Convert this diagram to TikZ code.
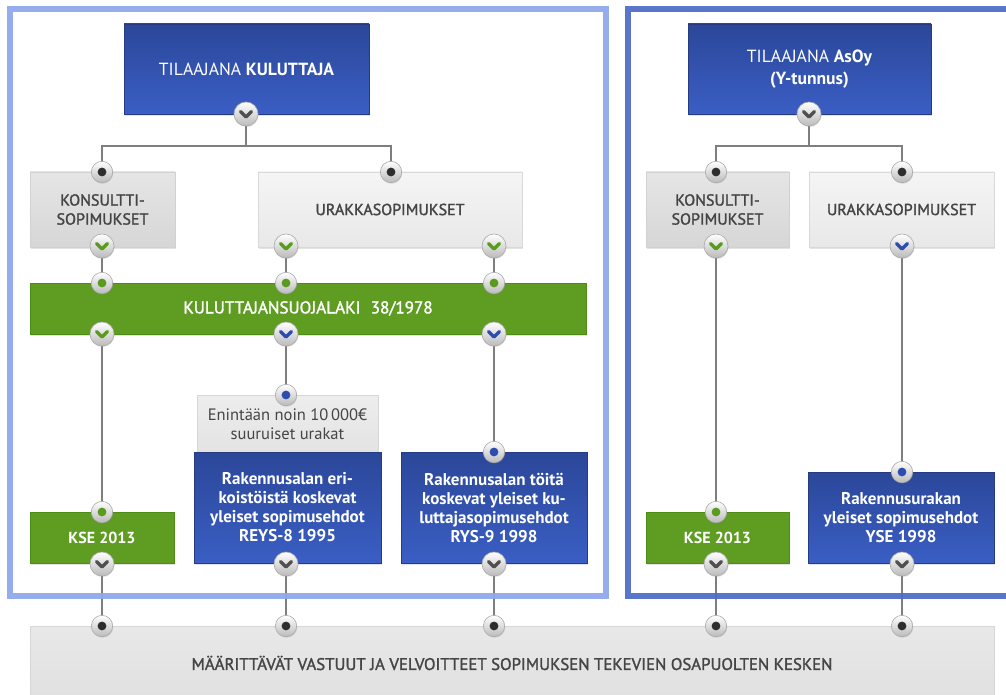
\documentclass[tikz,border=0pt]{standalone}
\usepackage{fontspec}
\setmainfont{PT Sans}
\newfontfamily\medfont{PT Sans}[FakeBold=1.6]
\usetikzlibrary{shadows}
\definecolor{blueA}{HTML}{2B4799}
\definecolor{blueB}{HTML}{3A5EC4}
\definecolor{grn}{HTML}{5F9C22}
\definecolor{grnD}{HTML}{4E8C18}
\definecolor{chevG}{HTML}{5A9A1E}
\definecolor{chevB}{HTML}{2D4CB0}
\definecolor{chevD}{HTML}{505050}
\definecolor{dotD}{HTML}{2E2E2E}
\definecolor{lineC}{HTML}{7E7E7E}
\definecolor{frameL}{HTML}{8EA7EC}
\definecolor{frameR}{HTML}{4D6BC6}
\definecolor{txtD}{HTML}{454545}
\pgfdeclarelayer{bg}
\pgfdeclarelayer{lines}
\pgfdeclarelayer{frames}
\pgfsetlayers{bg,lines,frames,main}
\tikzset{
  sz/.style 2 args={minimum width=#1*0.75pt, minimum height=#2*0.75pt},
  box/.style={inner sep=0pt, outer sep=0pt, align=center,
    font=\fontsize{12}{14.25}\selectfont,
    drop shadow={shadow xshift=0.8pt, shadow yshift=-1.2pt, opacity=0.22}},
  bluebox/.style={box, top color=blueA, bottom color=blueB, draw=blueA!85!black, line width=0.3pt, text=white,
    font=\fontsize{12.75}{14.25}\selectfont},
  greenbox/.style={box, fill=grn, draw=grnD, line width=0.3pt, text=white},
  greyA/.style={box, top color=black!10, bottom color=black!16, draw=black!18, line width=0.4pt, text=txtD},
  greyB/.style={box, top color=black!4, bottom color=black!9, draw=black!15, line width=0.4pt, text=txtD},
  greyC/.style={box, top color=black!7, bottom color=black!11, draw=black!16, line width=0.4pt, text=txtD},
  knob/.style={circle, inner sep=0pt, outer sep=0pt, minimum size=18pt, top color=white, bottom color=black!27,
    draw=black!32, line width=0.5pt,
    drop shadow={shadow xshift=0.4pt, shadow yshift=-0.8pt, opacity=0.25}},
  chev/.style={knob, path picture={\draw[#1, line width=2.5pt, line cap=round, line join=round]
    (path picture bounding box.center) ++(-5.5,-2.5) -- ++(5.5,5.5) -- ++(5.5,-5.5);}},
  dot/.style={knob, minimum size=16pt, path picture={\fill[#1] (path picture bounding box.center) circle (3.3pt);}},
  conn/.style={draw=lineC, line width=2.2pt},
  frame/.style={line width=4.5pt, draw=#1, opacity=0.92}
}
\begin{document}
\begin{tikzpicture}[x=0.75pt, y=-0.75pt]
\begin{pgfonlayer}{bg}
\fill[white] (0,0) rectangle (1006,695);
\end{pgfonlayer}
\useasboundingbox (0,0) rectangle (1006,695);

% frames
\begin{pgfonlayer}{frames}
\draw[frame=frameL] (10,9) rectangle (606,596);
\draw[frame=frameR] (628,9) rectangle (1016,596);
\end{pgfonlayer}

% boxes left
\node[bluebox, sz={245}{90}, font=\fontsize{13.2}{16}\selectfont] (topL) at (246.5,69) {TILAAJANA \textbf{KULUTTAJA}};
\node[greyA, sz={145}{75}] (konsL) at (102.5,209.5) {\medfont KONSULTTI-\\\medfont SOPIMUKSET};
\node[greyB, sz={264}{75}] (urakL) at (390,209.5) {\medfont URAKKASOPIMUKSET};
\node[greenbox, sz={556}{51}, font=\fontsize{12.8}{15}\selectfont] (ksl) at (308,308.5) {\medfont KULUTTAJANSUOJALAKI\hspace{0.6em}38/1978};
\node[greenbox, sz={144}{51}] (kseL) at (102,537.5) {\textbf{KSE 2013}};
\node[greyC, sz={181}{57}, font=\fontsize{12.4}{14.25}\selectfont] (enint) at (287.5,424) {Enintään noin 10\,000€\\suuruiset urakat};
\node[bluebox, sz={187}{111}] (reys) at (287.5,507.5) {\textbf{Rakennusalan eri-}\\\textbf{koistöistä koskevat}\\\textbf{yleiset sopimusehdot}\\\textbf{REYS-8 1995}};
\node[bluebox, sz={186}{111}] (rys) at (494,507.5) {\textbf{Rakennusalan töitä}\\\textbf{koskevat yleiset ku-}\\\textbf{luttajasopimusehdot}\\\textbf{RYS-9 1998}};

% boxes right
\node[bluebox, sz={243}{90}, font=\fontsize{13.2}{16}\selectfont] (topR) at (809.5,69) {TILAAJANA \textbf{AsOy}\\\textbf{(Y-tunnus)}};
\node[greyA, sz={143}{75}] (konsR) at (717.5,209.5) {\medfont KONSULTTI-\\\medfont SOPIMUKSET};
\node[greyB, sz={185}{75}] (urakR) at (901.5,209.5) {\medfont URAKKASOPIMUKSET};
\node[greenbox, sz={143}{51}] (kseR) at (717.5,537.5) {\textbf{KSE 2013}};
\node[bluebox, sz={186}{91}] (yse) at (901,517.5) {\textbf{Rakennusurakan}\\\textbf{yleiset sopimusehdot}\\\textbf{YSE 1998}};

% bottom
\node[greyC, sz={964}{74}, top color=black!9, bottom color=black!12, font=\fontsize{12.6}{15}\selectfont,
  drop shadow={shadow xshift=0pt, shadow yshift=-0.5pt, opacity=0.15}] (bot) at (512,663)
  {\medfont MÄÄRITTÄVÄT VASTUUT JA VELVOITTEET SOPIMUKSEN TEKEVIEN OSAPUOLTEN KESKEN};

% knobs left
\node[chev=chevD] (c0) at (246,114) {};
\node[dot=dotD] (d1) at (102,172) {};
\node[dot=dotD] (d2) at (391,172) {};
\node[chev=chevG] (c1) at (102,246) {};
\node[chev=chevG] (c2) at (286,246) {};
\node[chev=chevG] (c3) at (494,246) {};
\node[dot=chevG] (e1) at (102,283) {};
\node[dot=chevG] (e2) at (286,283) {};
\node[dot=chevG] (e3) at (494,283) {};
\node[chev=chevG] (f1) at (102,334) {};
\node[chev=chevB] (f2) at (286,334) {};
\node[chev=chevB] (f3) at (494,334) {};
\node[dot=chevG] (g1) at (102,512) {};
\node[dot=chevB] (g2) at (286,395) {};
\node[dot=chevB] (g3) at (494,452) {};
\node[chev=chevD] (h1) at (102,564) {};
\node[chev=chevD] (h2) at (286,564) {};
\node[chev=chevD] (h3) at (494,564) {};
\node[dot=dotD] (b1) at (102,626) {};
\node[dot=dotD] (b2) at (286,626) {};
\node[dot=dotD] (b3) at (494,626) {};

% knobs right
\node[chev=chevD] (r0) at (809,114) {};
\node[dot=dotD] (rd1) at (716,172) {};
\node[dot=dotD] (rd2) at (902,172) {};
\node[chev=chevG] (rc1) at (716,246) {};
\node[chev=chevB] (rc2) at (902,246) {};
\node[dot=chevG] (rg1) at (716,512) {};
\node[dot=chevB] (rg2) at (902,472) {};
\node[chev=chevD] (rh1) at (716,564) {};
\node[chev=chevD] (rh2) at (902,564) {};
\node[dot=dotD] (b4) at (716,626) {};
\node[dot=dotD] (b5) at (902,626) {};

\coordinate (jL) at (246,146);
\coordinate (jR) at (809,146);

\begin{pgfonlayer}{lines}
\draw[conn] (c0.center) -- (jL);
\draw[conn] (d1.center) |- (jL) -| (d2.center);
\draw[conn] (c1.center) -- (e1.center);
\draw[conn] (c2.center) -- (e2.center);
\draw[conn] (c3.center) -- (e3.center);
\draw[conn] (f1.center) -- (g1.center);
\draw[conn] (f2.center) -- (g2.center);
\draw[conn] (f3.center) -- (g3.center);
\draw[conn] (h1.center) -- (b1.center);
\draw[conn] (h2.center) -- (b2.center);
\draw[conn] (h3.center) -- (b3.center);
\draw[conn] (r0.center) -- (jR);
\draw[conn] (rd1.center) |- (jR) -| (rd2.center);
\draw[conn] (rc1.center) -- (rg1.center);
\draw[conn] (rc2.center) -- (rg2.center);
\draw[conn] (rh1.center) -- (b4.center);
\draw[conn] (rh2.center) -- (b5.center);
\end{pgfonlayer}
\end{tikzpicture}
\end{document}
